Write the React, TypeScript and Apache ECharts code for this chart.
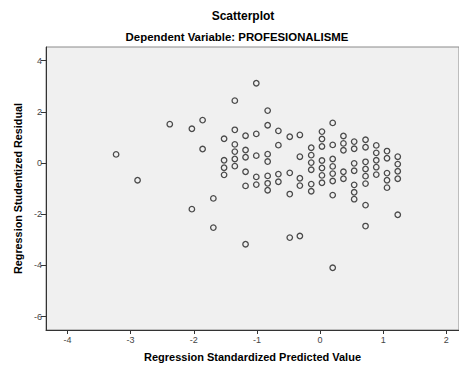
import React, { useEffect, useRef } from "react";
import * as echarts from "echarts";

const titleText = "Scatterplot";
const subtitleText = "Dependent Variable: PROFESIONALISME";
const xAxisTitle = "Regression Standardized Predicted Value";
const yAxisTitle = "Regression Studentized Residual";

const xTicks = [-4, -3, -2, -1, 0, 1, 2];
const yTicks = [-6, -4, -2, 0, 2, 4];

const predicted = [
  -3.23,
  -2.89,
  -2.38,
  -2.03, -2.03,
  -1.86, -1.86,
  -1.69, -1.69,
  -1.52, -1.52, -1.52, -1.52,
  -1.35, -1.35, -1.35, -1.35, -1.35, -1.35,
  -1.18, -1.18, -1.18, -1.18, -1.18, -1.18,
  -1.01, -1.01, -1.01, -1.01, -1.01,
  -0.83, -0.83, -0.83, -0.83, -0.83, -0.83, -0.83,
  -0.66, -0.66, -0.66, -0.66,
  -0.48, -0.48, -0.48, -0.48,
  -0.32, -0.32, -0.32, -0.32, -0.32,
  -0.14, -0.14, -0.14, -0.14, -0.14, -0.14,
  0.03, 0.03, 0.03, 0.03, 0.03, 0.03, 0.03,
  0.2, 0.2, 0.2, 0.2, 0.2, 0.2, 0.2, 0.2,
  0.37, 0.37, 0.37, 0.37, 0.37,
  0.54, 0.54, 0.54, 0.54, 0.54, 0.54, 0.54,
  0.72, 0.72, 0.72, 0.72, 0.72, 0.72, 0.72, 0.72,
  0.89, 0.89, 0.89, 0.89, 0.89,
  1.06, 1.06, 1.06, 1.06, 1.06,
  1.23, 1.23, 1.23, 1.23, 1.23,
];

const residual = [
  0.34,
  -0.67,
  1.52,
  1.34, -1.8,
  1.68, 0.55,
  -1.38, -2.52,
  0.95, 0.11, -0.18, -0.46,
  2.44, 1.3, 0.73, 0.45, 0.16, -0.12,
  1.07, 0.51, 0.23, -0.34, -0.89, -3.17,
  3.12, 1.14, 0.29, -0.54, -0.84,
  2.05, 1.48, 0.35, 0.06, -0.5, -0.79, -1.06,
  1.26, 0.7, -0.43, -0.73,
  1.03, -0.38, -1.21, -2.91,
  1.1, 0.25, -0.59, -0.88, -2.85,
  0.6, 0.31, 0.02, -0.26, -0.82, -1.1,
  1.23, 0.94, 0.65, 0.1, -0.19, -0.48, -0.77,
  1.57, 0.71, 0.16, -0.13, -0.41, -0.7, -1.25, -4.09,
  1.06, 0.77, 0.5, -0.34, -0.61,
  0.84, 0.56, -0.01, -0.3, -0.85, -1.14, -1.41,
  0.91, 0.62, 0.05, -0.23, -0.51, -0.8, -1.64, -2.46,
  0.69, 0.4, 0.11, -0.16, -0.45,
  0.47, 0.19, -0.39, -0.67, -0.96,
  0.25, -0.04, -0.32, -0.61, -2.02,
];

const FONT = "'Liberation Sans', Arial, sans-serif";

export default function App() {
  const ref = useRef<HTMLDivElement>(null);

  useEffect(() => {
    if (!ref.current) return;
    const chart = echarts.init(ref.current, null, { renderer: "svg" });
    const points = predicted.map((x, i) => [x, residual[i]]);
    chart.setOption({
      animation: false,
      backgroundColor: "#ffffff",
      textStyle: { fontFamily: FONT },
      title: [
        {
          text: titleText,
          left: 238,
          top: 5,
          textAlign: "center",
          textStyle: { fontFamily: FONT, fontSize: 12, fontWeight: "bold", color: "#000" },
        },
        {
          text: subtitleText,
          left: 232,
          top: 26,
          textAlign: "center",
          textStyle: { fontFamily: FONT, fontSize: 11.4, fontWeight: "bold", color: "#000" },
        },
      ],
      grid: {
        left: 46,
        top: 47,
        right: 0,
        bottom: 36,
        outerBoundsMode: "none",
        containLabel: false,
        show: true,
        backgroundColor: "#f0f0f0",
        borderColor: "#8a8a8a",
        borderWidth: 1,
      },
      xAxis: {
        type: "value",
        min: -4.34,
        max: 2.2,
        name: xAxisTitle,
        nameLocation: "middle",
        nameGap: 21,
        nameTextStyle: { fontFamily: FONT, fontSize: 11, fontWeight: "bold", color: "#000" },
        axisLine: { show: true, onZero: false, lineStyle: { color: "#333", width: 1 } },
        axisTick: { show: true, length: 4, customValues: xTicks, lineStyle: { color: "#333" } },
        axisLabel: {
          customValues: xTicks,
          fontSize: 9,
          color: "#444",
          margin: 5,
          fontFamily: FONT,
        },
        splitLine: { show: false },
      },
      yAxis: {
        type: "value",
        min: -6.52,
        max: 4.535,
        name: yAxisTitle,
        nameLocation: "middle",
        nameGap: 21,
        nameRotate: 90,
        nameTextStyle: { fontFamily: FONT, fontSize: 10.8, fontWeight: "bold", color: "#000" },
        axisLine: { show: true, onZero: false, lineStyle: { color: "#333", width: 1 } },
        axisTick: { show: true, length: 5, customValues: yTicks, lineStyle: { color: "#333" } },
        axisLabel: {
          customValues: yTicks,
          fontSize: 9,
          color: "#444",
          margin: 4,
          fontFamily: FONT,
        },
        splitLine: { show: false },
      },
      series: [
        {
          type: "scatter",
          data: points,
          symbol: "circle",
          symbolSize: 5.5,
          itemStyle: {
            color: "rgba(0,0,0,0)",
            borderColor: "#4a4a4a",
            borderWidth: 1.3,
            opacity: 1,
          },
        },
      ],
    });
    return () => chart.dispose();
  }, []);

  return <div ref={ref} style={{ width: 459, height: 366, position: "absolute", left: 0, top: 0 }} />;
}
